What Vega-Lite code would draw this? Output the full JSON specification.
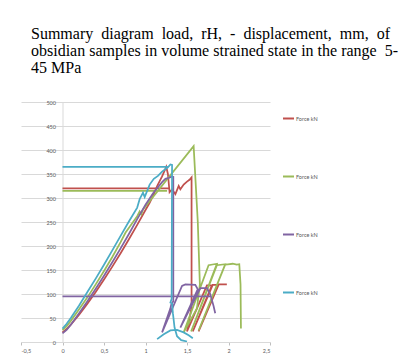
{
  "$schema": "https://vega.github.io/schema/vega-lite/v6.json",
  "width": 249,
  "height": 240,
  "autosize": {"type": "none"},
  "padding": {"left": 21, "top": 102, "right": 140, "bottom": 14},
  "background": "white",
  "title": {
    "text": ["Summary\u00a0 diagram\u00a0 load,\u00a0 rH,\u00a0 -\u00a0 displacement,\u00a0 mm,\u00a0 of", "obsidian samples in volume strained state in the range\u00a0 5-", "45 MPa"],
    "anchor": "start",
    "frame": "group",
    "font": "Liberation Serif",
    "fontSize": 16,
    "fontWeight": "normal",
    "color": "#000000",
    "lineHeight": 17,
    "dx": 10,
    "offset": 24
  },
  "data": {
    "values": [
      {"s": "1", "g": "1h", "i": 0, "x": 0, "y": 320},
      {"s": "1", "g": "1h", "i": 1, "x": 1.29, "y": 320},
      {"s": "1", "g": "1m", "i": 0, "x": 0, "y": 20},
      {"s": "1", "g": "1m", "i": 1, "x": 0.05, "y": 27},
      {"s": "1", "g": "1m", "i": 2, "x": 0.1, "y": 36},
      {"s": "1", "g": "1m", "i": 3, "x": 0.2, "y": 57},
      {"s": "1", "g": "1m", "i": 4, "x": 0.3, "y": 80},
      {"s": "1", "g": "1m", "i": 5, "x": 0.4, "y": 104},
      {"s": "1", "g": "1m", "i": 6, "x": 0.5, "y": 130},
      {"s": "1", "g": "1m", "i": 7, "x": 0.6, "y": 157},
      {"s": "1", "g": "1m", "i": 8, "x": 0.7, "y": 185},
      {"s": "1", "g": "1m", "i": 9, "x": 0.8, "y": 214},
      {"s": "1", "g": "1m", "i": 10, "x": 0.9, "y": 244},
      {"s": "1", "g": "1m", "i": 11, "x": 1.0, "y": 275},
      {"s": "1", "g": "1m", "i": 12, "x": 1.05, "y": 290},
      {"s": "1", "g": "1m", "i": 13, "x": 1.1, "y": 308},
      {"s": "1", "g": "1m", "i": 14, "x": 1.14, "y": 325},
      {"s": "1", "g": "1m", "i": 15, "x": 1.2, "y": 345},
      {"s": "1", "g": "1m", "i": 16, "x": 1.25, "y": 365},
      {"s": "1", "g": "1m", "i": 17, "x": 1.27, "y": 350},
      {"s": "1", "g": "1m", "i": 18, "x": 1.29, "y": 312},
      {"s": "1", "g": "1m", "i": 19, "x": 1.32, "y": 318},
      {"s": "1", "g": "1m", "i": 20, "x": 1.36, "y": 308},
      {"s": "1", "g": "1m", "i": 21, "x": 1.4, "y": 325},
      {"s": "1", "g": "1m", "i": 22, "x": 1.42, "y": 318},
      {"s": "1", "g": "1m", "i": 23, "x": 1.46, "y": 328},
      {"s": "1", "g": "1m", "i": 24, "x": 1.5, "y": 334},
      {"s": "1", "g": "1m", "i": 25, "x": 1.53, "y": 338},
      {"s": "1", "g": "1m", "i": 26, "x": 1.555, "y": 343},
      {"s": "1", "g": "1m", "i": 27, "x": 1.555, "y": 72},
      {"s": "1", "g": "1m", "i": 28, "x": 1.5, "y": 22},
      {"s": "1", "g": "1m", "i": 29, "x": 1.74, "y": 118},
      {"s": "1", "g": "1m", "i": 30, "x": 1.8, "y": 118},
      {"s": "1", "g": "1m", "i": 31, "x": 1.57, "y": 22},
      {"s": "1", "g": "1m", "i": 32, "x": 1.81, "y": 119},
      {"s": "1", "g": "1m", "i": 33, "x": 1.88, "y": 119},
      {"s": "1", "g": "1m", "i": 34, "x": 1.64, "y": 22},
      {"s": "1", "g": "1m", "i": 35, "x": 1.88, "y": 120},
      {"s": "1", "g": "1m", "i": 36, "x": 1.98, "y": 120},

      {"s": "2", "g": "2h", "i": 0, "x": 0, "y": 315},
      {"s": "2", "g": "2h", "i": 1, "x": 1.26, "y": 315},
      {"s": "2", "g": "2m", "i": 0, "x": 0, "y": 25},
      {"s": "2", "g": "2m", "i": 1, "x": 0.05, "y": 33},
      {"s": "2", "g": "2m", "i": 2, "x": 0.1, "y": 44},
      {"s": "2", "g": "2m", "i": 3, "x": 0.2, "y": 68},
      {"s": "2", "g": "2m", "i": 4, "x": 0.3, "y": 93},
      {"s": "2", "g": "2m", "i": 5, "x": 0.4, "y": 120},
      {"s": "2", "g": "2m", "i": 6, "x": 0.5, "y": 148},
      {"s": "2", "g": "2m", "i": 7, "x": 0.6, "y": 177},
      {"s": "2", "g": "2m", "i": 8, "x": 0.7, "y": 208},
      {"s": "2", "g": "2m", "i": 9, "x": 0.76, "y": 228},
      {"s": "2", "g": "2m", "i": 10, "x": 0.9, "y": 262},
      {"s": "2", "g": "2m", "i": 11, "x": 0.93, "y": 272},
      {"s": "2", "g": "2m", "i": 12, "x": 0.95, "y": 266},
      {"s": "2", "g": "2m", "i": 13, "x": 0.97, "y": 276},
      {"s": "2", "g": "2m", "i": 14, "x": 1.58, "y": 408},
      {"s": "2", "g": "2m", "i": 15, "x": 1.63, "y": 250},
      {"s": "2", "g": "2m", "i": 16, "x": 1.655, "y": 120},
      {"s": "2", "g": "2m", "i": 17, "x": 1.62, "y": 70},
      {"s": "2", "g": "2m", "i": 18, "x": 1.46, "y": 20},
      {"s": "2", "g": "2m", "i": 19, "x": 1.76, "y": 160},
      {"s": "2", "g": "2m", "i": 20, "x": 1.86, "y": 163},
      {"s": "2", "g": "2m", "i": 21, "x": 1.55, "y": 22},
      {"s": "2", "g": "2m", "i": 22, "x": 1.86, "y": 160},
      {"s": "2", "g": "2m", "i": 23, "x": 1.96, "y": 162},
      {"s": "2", "g": "2m", "i": 24, "x": 1.64, "y": 24},
      {"s": "2", "g": "2m", "i": 25, "x": 1.96, "y": 161},
      {"s": "2", "g": "2m", "i": 26, "x": 2.05, "y": 163},
      {"s": "2", "g": "2m", "i": 27, "x": 2.1, "y": 161},
      {"s": "2", "g": "2m", "i": 28, "x": 2.13, "y": 162},
      {"s": "2", "g": "2m", "i": 29, "x": 2.145, "y": 120},
      {"s": "2", "g": "2m", "i": 30, "x": 2.15, "y": 28},

      {"s": "3", "g": "3h", "i": 0, "x": 0, "y": 95},
      {"s": "3", "g": "3h", "i": 1, "x": 1.78, "y": 95},
      {"s": "3", "g": "3m", "i": 0, "x": 0, "y": 18},
      {"s": "3", "g": "3m", "i": 1, "x": 0.05, "y": 25},
      {"s": "3", "g": "3m", "i": 2, "x": 0.1, "y": 36},
      {"s": "3", "g": "3m", "i": 3, "x": 0.2, "y": 60},
      {"s": "3", "g": "3m", "i": 4, "x": 0.3, "y": 85},
      {"s": "3", "g": "3m", "i": 5, "x": 0.4, "y": 111},
      {"s": "3", "g": "3m", "i": 6, "x": 0.5, "y": 138},
      {"s": "3", "g": "3m", "i": 7, "x": 0.6, "y": 166},
      {"s": "3", "g": "3m", "i": 8, "x": 0.7, "y": 195},
      {"s": "3", "g": "3m", "i": 9, "x": 0.8, "y": 225},
      {"s": "3", "g": "3m", "i": 10, "x": 0.9, "y": 256},
      {"s": "3", "g": "3m", "i": 11, "x": 1.0, "y": 286},
      {"s": "3", "g": "3m", "i": 12, "x": 1.1, "y": 312},
      {"s": "3", "g": "3m", "i": 13, "x": 1.2, "y": 333},
      {"s": "3", "g": "3m", "i": 14, "x": 1.24, "y": 340},
      {"s": "3", "g": "3m", "i": 15, "x": 1.28, "y": 342},
      {"s": "3", "g": "3m", "i": 16, "x": 1.32, "y": 345},
      {"s": "3", "g": "3m", "i": 17, "x": 1.335, "y": 344},
      {"s": "3", "g": "3m", "i": 18, "x": 1.335, "y": 85},
      {"s": "3", "g": "3m", "i": 19, "x": 1.31, "y": 78},
      {"s": "3", "g": "3m", "i": 20, "x": 1.3, "y": 70},
      {"s": "3", "g": "3m", "i": 21, "x": 1.2, "y": 20},
      {"s": "3", "g": "3m", "i": 22, "x": 1.44, "y": 117},
      {"s": "3", "g": "3m", "i": 23, "x": 1.48, "y": 120},
      {"s": "3", "g": "3m", "i": 24, "x": 1.6, "y": 119},
      {"s": "3", "g": "3m", "i": 25, "x": 1.63, "y": 110},
      {"s": "3", "g": "3m", "i": 26, "x": 1.42, "y": 30},
      {"s": "3", "g": "3m", "i": 27, "x": 1.66, "y": 112},
      {"s": "3", "g": "3m", "i": 28, "x": 1.74, "y": 112},
      {"s": "3", "g": "3m", "i": 29, "x": 1.78, "y": 100},
      {"s": "3", "g": "3m", "i": 30, "x": 1.82, "y": 75},
      {"s": "3", "g": "3m", "i": 31, "x": 1.84, "y": 60},

      {"s": "4", "g": "4h", "i": 0, "x": 0, "y": 365},
      {"s": "4", "g": "4h", "i": 1, "x": 1.27, "y": 365},
      {"s": "4", "g": "4m", "i": 0, "x": 0, "y": 28},
      {"s": "4", "g": "4m", "i": 1, "x": 0.05, "y": 38},
      {"s": "4", "g": "4m", "i": 2, "x": 0.1, "y": 50},
      {"s": "4", "g": "4m", "i": 3, "x": 0.2, "y": 76},
      {"s": "4", "g": "4m", "i": 4, "x": 0.3, "y": 104},
      {"s": "4", "g": "4m", "i": 5, "x": 0.4, "y": 132},
      {"s": "4", "g": "4m", "i": 6, "x": 0.5, "y": 161},
      {"s": "4", "g": "4m", "i": 7, "x": 0.6, "y": 191},
      {"s": "4", "g": "4m", "i": 8, "x": 0.7, "y": 221},
      {"s": "4", "g": "4m", "i": 9, "x": 0.8, "y": 251},
      {"s": "4", "g": "4m", "i": 10, "x": 0.9, "y": 280},
      {"s": "4", "g": "4m", "i": 11, "x": 0.93, "y": 298},
      {"s": "4", "g": "4m", "i": 12, "x": 0.97, "y": 311},
      {"s": "4", "g": "4m", "i": 13, "x": 0.99, "y": 302},
      {"s": "4", "g": "4m", "i": 14, "x": 1.05, "y": 328},
      {"s": "4", "g": "4m", "i": 15, "x": 1.1, "y": 340},
      {"s": "4", "g": "4m", "i": 16, "x": 1.15, "y": 346},
      {"s": "4", "g": "4m", "i": 17, "x": 1.2, "y": 355},
      {"s": "4", "g": "4m", "i": 18, "x": 1.27, "y": 364},
      {"s": "4", "g": "4m", "i": 19, "x": 1.3, "y": 370},
      {"s": "4", "g": "4m", "i": 20, "x": 1.32, "y": 369},
      {"s": "4", "g": "4m", "i": 21, "x": 1.315, "y": 90},
      {"s": "4", "g": "4m", "i": 22, "x": 1.3, "y": 82},
      {"s": "4", "g": "4m", "i": 23, "x": 1.32, "y": 80},
      {"s": "4", "g": "4m", "i": 24, "x": 1.33, "y": 60},
      {"s": "4", "g": "4m", "i": 25, "x": 1.35, "y": 30},
      {"s": "4", "g": "4m", "i": 26, "x": 1.38, "y": 12},
      {"s": "4", "g": "4m", "i": 27, "x": 1.43, "y": 4},
      {"s": "4", "g": "4m", "i": 28, "x": 1.5, "y": 1},
      {"s": "4", "g": "4b", "i": 0, "x": 1.14, "y": 6},
      {"s": "4", "g": "4b", "i": 1, "x": 1.22, "y": 16},
      {"s": "4", "g": "4b", "i": 2, "x": 1.3, "y": 24},
      {"s": "4", "g": "4b", "i": 3, "x": 1.38, "y": 25},
      {"s": "4", "g": "4b", "i": 4, "x": 1.46, "y": 20},
      {"s": "4", "g": "4b", "i": 5, "x": 1.52, "y": 14},
      {"s": "4", "g": "4b", "i": 6, "x": 1.57, "y": 8}
    ]
  },
  "mark": {"type": "line", "strokeWidth": 1.75, "clip": true},
  "encoding": {
    "x": {
      "field": "x",
      "type": "quantitative",
      "scale": {"domain": [-0.5, 2.5], "nice": false, "zero": false},
      "axis": {
        "values": [-0.5, 0, 0.5, 1, 1.5, 2, 2.5],
        "labelExpr": "replace(toString(datum.value), '.', ',')",
        "title": null,
        "grid": false,
        "domainColor": "#D9D9D9",
        "tickColor": "#BFBFBF",
        "tickSize": 3,
        "labelFont": "Lato",
        "labelFontSize": 5.5,
        "labelColor": "#595959",
        "labelPadding": 3
      }
    },
    "y": {
      "field": "y",
      "type": "quantitative",
      "scale": {"domain": [0, 500], "nice": false},
      "axis": {
        "values": [0, 50, 100, 150, 200, 250, 300, 350, 400, 450, 500],
        "title": null,
        "offset": -41.5,
        "gridColor": "#D9D9D9",
        "domainColor": "#D9D9D9",
        "ticks": false,
        "labelPadding": 7,
        "labelFont": "Lato",
        "labelFontSize": 5.5,
        "labelColor": "#595959"
      }
    },
    "color": {
      "field": "s",
      "type": "nominal",
      "scale": {"domain": ["1", "2", "3", "4"], "range": ["#C0504D", "#9BBB59", "#8064A2", "#4BACC6"]},
      "legend": {
        "title": null,
        "orient": "none",
        "legendX": 261,
        "legendY": 10,
        "direction": "vertical",
        "symbolType": "stroke",
        "symbolSize": 121,
        "symbolStrokeWidth": 2,
        "labelExpr": "'Force kN'",
        "labelFont": "Lato",
        "labelFontSize": 5.5,
        "labelColor": "#595959",
        "rowPadding": 47,
        "labelOffset": 1,
        "padding": 0
      }
    },
    "detail": {"field": "g"},
    "order": {"field": "i", "type": "quantitative"}
  },
  "config": {"view": {"stroke": null}}
}
